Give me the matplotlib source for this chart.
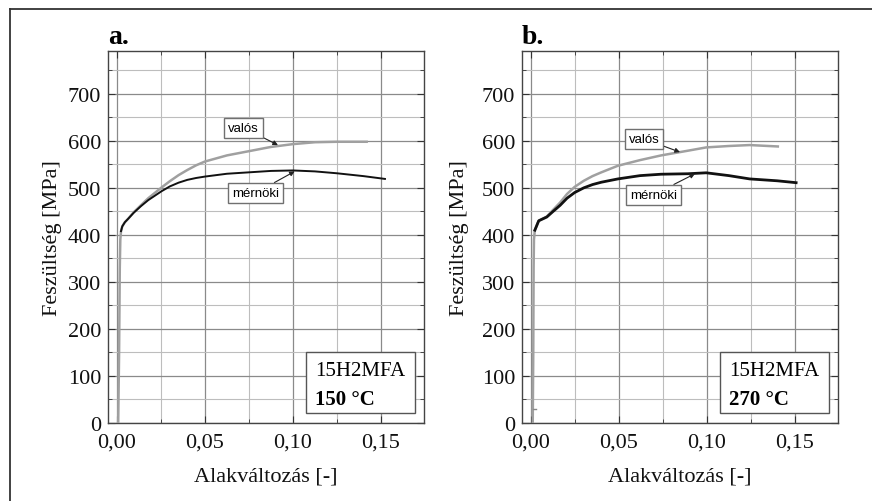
import matplotlib
matplotlib.use('Agg')
import matplotlib.pyplot as plt
import matplotlib.ticker as ticker
from matplotlib.lines import Line2D
from matplotlib.patches import Rectangle

# ----------------------------------------------------------------------
# Data (strain [-], stress [MPa])
a_valos_x = [0.0007, 0.0012, 0.0016, 0.0019, 0.0023, 0.003, 0.0045, 0.0063, 0.0095, 0.0136, 0.0178, 0.0254, 0.03, 0.035, 0.04, 0.045, 0.05, 0.0625, 0.075, 0.0875, 0.1, 0.1125, 0.125, 0.1419]
a_valos_y = [0, 150, 330, 390, 408, 418, 427, 434, 448, 463, 478, 501, 514, 527, 538, 548, 556, 569, 578, 587, 593, 597, 598, 598]
a_mernoki_x = [0.0023, 0.003, 0.0045, 0.0063, 0.0095, 0.0136, 0.0178, 0.0254, 0.03, 0.035, 0.04, 0.045, 0.05, 0.0625, 0.075, 0.0875, 0.1, 0.1125, 0.125, 0.14, 0.1523]
a_mernoki_y = [408, 418, 427, 434, 447, 461, 474, 493, 503, 511, 517, 521, 524, 530, 533, 536, 537, 535, 531, 525, 519]

b_valos_x = [0.0010, 0.0013, 0.0015, 0.0017, 0.0022, 0.0044, 0.009, 0.012, 0.0166, 0.0205, 0.0248, 0.03, 0.035, 0.04, 0.0494, 0.062, 0.074, 0.0892, 0.0996, 0.1125, 0.1243, 0.1403]
b_valos_y = [0, 150, 330, 390, 410, 430, 439, 451, 469, 487, 502, 515, 525, 533, 547, 559, 569, 579, 586, 589, 591, 588]
b_mernoki_x = [0.0022, 0.0044, 0.009, 0.012, 0.0166, 0.0205, 0.0248, 0.03, 0.035, 0.04, 0.0494, 0.062, 0.074, 0.0892, 0.0996, 0.1125, 0.1243, 0.14, 0.1507]
b_mernoki_y = [410, 430, 438, 448, 463, 478, 490, 500, 507, 512, 519, 526, 529, 530, 532, 526, 519, 515, 511]
b_blip_x = [0.0013, 0.0028]
b_blip_y = [30, 30]

xtick_values = [0.0, 0.05, 0.10, 0.15]
xtick_labels = ['0,00', '0,05', '0,10', '0,15']
ytick_values = [0, 100, 200, 300, 400, 500, 600, 700]

panels = [
    {'letter': 'a.', 'temp': '150 °C', 'valos': (a_valos_x, a_valos_y), 'mernoki': (a_mernoki_x, a_mernoki_y),
     'valos_txt': (0.0719, 628), 'valos_tip': (0.0915, 591), 'mern_txt': (0.0787, 489), 'mern_tip': (0.101, 535)},
    {'letter': 'b.', 'temp': '270 °C', 'valos': (b_valos_x, b_valos_y), 'mernoki': (b_mernoki_x, b_mernoki_y),
     'valos_txt': (0.0642, 604), 'valos_tip': (0.0847, 576), 'mern_txt': (0.0695, 485), 'mern_tip': (0.0932, 530)},
]

serif = 'Liberation Serif'
sans = 'Liberation Sans'

fig = plt.figure(figsize=(8.72, 5.02), dpi=100)

# outer frame (only left and top edges are visible)
fig.add_artist(Line2D([10/872, 10/872], [0, 1 - 10/502], color='#333333', lw=1.3))
fig.add_artist(Line2D([10/872, 1], [1 - 10/502, 1 - 10/502], color='#333333', lw=1.3))

lefts = [108/872, 522/872]
width = 316/872
bottom = 1 - 424/502
height = 372/502

for i, p in enumerate(panels):
    ax = fig.add_axes([lefts[i], bottom, width, height])

    ax.plot(*p['valos'], color='#a0a0a0', lw=1.8, zorder=3)
    ax.plot(*p['mernoki'], color='#111111', lw=1.4 if i == 0 else 2.0, zorder=4)
    if i == 1:
        ax.plot(b_blip_x, b_blip_y, color='#888888', lw=1.0, zorder=3)

    ax.set_xlim(-0.0051, 0.1745)
    ax.set_ylim(0, 791)

    ax.set_xticks(xtick_values)
    ax.set_xticklabels(xtick_labels)
    ax.set_yticks(ytick_values)
    ax.xaxis.set_minor_locator(ticker.MultipleLocator(0.025))
    ax.yaxis.set_minor_locator(ticker.MultipleLocator(50))

    ax.grid(which='major', color='#8a8a8a', lw=0.9)
    ax.grid(which='minor', color='#bdbdbd', lw=0.8)
    ax.set_axisbelow(True)

    ax.tick_params(axis='both', which='both', direction='in', top=True, right=True, colors='#333333')
    ax.tick_params(axis='both', which='major', length=5, labelsize=16)
    ax.tick_params(axis='both', which='minor', length=3)
    ax.tick_params(axis='x', which='major', pad=7)
    ax.tick_params(axis='y', which='major', pad=5)
    for lab in ax.get_xticklabels() + ax.get_yticklabels():
        lab.set_family(serif)
        lab.set_color('#111111')
    for sp in ax.spines.values():
        sp.set_color('#444444')
        sp.set_linewidth(1.0)

    ax.set_xlabel('Alakváltozás [-]', fontsize=16, family=serif, color='#111111')
    ax.set_ylabel('Feszültség [MPa]', fontsize=16, family=serif, color='#111111')
    ax.xaxis.set_label_coords(0.5, -0.117)
    ax.yaxis.set_label_coords(-0.147 if i == 0 else -0.167, 0.5)

    # panel letter
    fig.text(lefts[i], 1 - 44/502, p['letter'], fontsize=20, fontweight='bold', family=serif, va='baseline')

    # curve labels with arrows
    box = dict(boxstyle='square,pad=0.3', fc='white', ec='#707070', lw=1.0)
    arrow = dict(arrowstyle='-|>', color='#222222', lw=0.8, mutation_scale=7, shrinkA=0, shrinkB=0)
    ax.annotate('valós', xy=p['valos_tip'], xytext=p['valos_txt'], fontsize=9.5, family=sans,
                ha='center', va='center', bbox=box, arrowprops=arrow, zorder=6)
    ax.annotate('mérnöki', xy=p['mern_tip'], xytext=p['mern_txt'], fontsize=9.5, family=sans,
                ha='center', va='center', bbox=box, arrowprops=arrow, zorder=6)

    # material / temperature box
    ax.add_patch(Rectangle((0.628, 0.026), 0.345, 0.164, transform=ax.transAxes,
                           fc='white', ec='#555555', lw=1.0, zorder=5))
    ax.text(0.656, 0.141, '15H2MFA', transform=ax.transAxes, fontsize=15, family=serif,
            va='center', ha='left', zorder=6)
    ax.text(0.656, 0.064, p['temp'], transform=ax.transAxes, fontsize=15, family=serif,
            fontweight='bold', va='center', ha='left', zorder=6)

plt.savefig('out.png', dpi=100)
